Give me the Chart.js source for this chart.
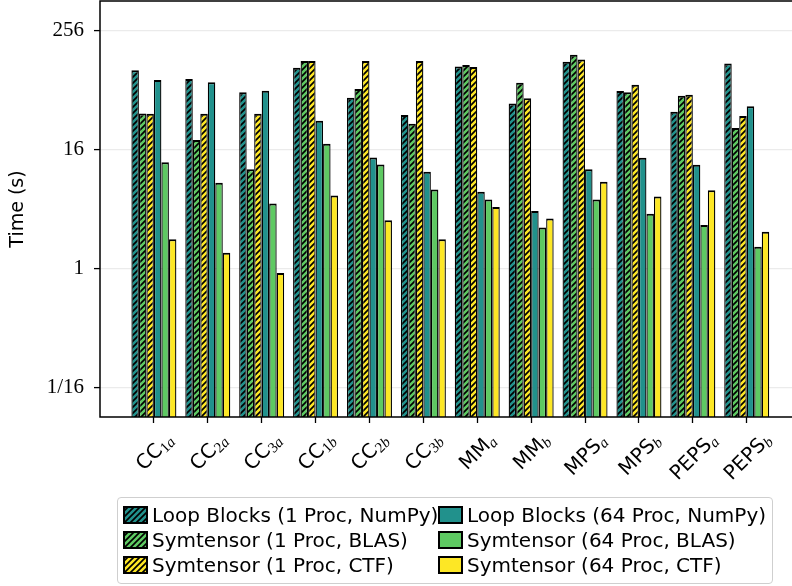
<!DOCTYPE html>
<html>
<head>
<meta charset="utf-8">
<script src="https://cdn.jsdelivr.net/npm/chart.js@4.4.1/dist/chart.umd.min.js"></script>
<style>
html,body{margin:0;padding:0;width:792px;height:586px;overflow:hidden;background:#fff;}
#wrap{position:relative;width:792px;height:586px;}
#c{position:absolute;left:0;top:0;}
.xl{position:absolute;white-space:nowrap;font-family:"DejaVu Sans",sans-serif;font-size:20px;color:#000;line-height:1;}
.xl .sub{font-family:"Liberation Serif",serif;font-size:15px;position:relative;top:3px;}
#legendBox{position:absolute;left:117px;top:497px;width:656px;height:87px;border:1.5px solid #cfcfcf;border-radius:4px;box-sizing:border-box;}
.lt{position:absolute;white-space:nowrap;font-family:"DejaVu Sans",sans-serif;font-size:20px;line-height:25px;color:#000;}
.sw{position:absolute;}
</style>
</head>
<body>
<div id="wrap">
<canvas id="c" width="792" height="586"></canvas>
<div id="legendBox"></div>
</div>
<script>
// ---------------- data ----------------
const categories = ['CC_1a','CC_2a','CC_3a','CC_1b','CC_2b','CC_3b','MM_a','MM_b','MPS_a','MPS_b','PEPS_a','PEPS_b'];
const loopBlocks1Proc  = [102, 83, 61, 108, 53.6, 35.8, 111, 47, 124, 62.6, 38.6, 119];
const symBlas1Proc     = [37.2, 20, 10.1, 126, 65.6, 29.2, 115, 76, 146, 61, 56, 26.4];
const symCtf1Proc      = [37, 37, 37, 126, 126, 126, 110, 53, 131, 72.5, 57.5, 35];
const loopBlocks64Proc = [81, 77, 63, 31.3, 13.3, 9.53, 5.98, 3.81, 10.1, 13.2, 11.2, 44];
const symBlas64Proc    = [11.9, 7.37, 4.56, 18.3, 11.3, 6.32, 5.0, 2.6, 5.0, 3.58, 2.75, 1.66];
const symCtf64Proc     = [1.97, 1.44, 0.90, 5.49, 3.07, 1.97, 4.18, 3.21, 7.55, 5.36, 6.18, 2.35];
const seriesNames = [
  'Loop Blocks (1 Proc, NumPy)',
  'Symtensor (1 Proc, BLAS)',
  'Symtensor (1 Proc, CTF)',
  'Loop Blocks (64 Proc, NumPy)',
  'Symtensor (64 Proc, BLAS)',
  'Symtensor (64 Proc, CTF)'
];
const yTickValues = [1/16, 1, 16, 256];
const yTickLabels = ['1/16', '1', '16', '256'];
const yAxisTitle = 'Time (s)';

// ---------------- styles ----------------
const TEAL = '#21918c', GREEN = '#5ec962', YELLOW = '#fde725';
function hatch(color){
  const t = document.createElement('canvas');
  t.width = 6; t.height = 6;
  const g = t.getContext('2d');
  g.fillStyle = color; g.fillRect(0,0,6,6);
  g.strokeStyle = '#000'; g.lineWidth = 1.7; g.lineCap = 'square';
  g.beginPath();
  g.moveTo(0,6); g.lineTo(6,0);
  g.moveTo(-3,3); g.lineTo(3,-3);
  g.moveTo(3,9); g.lineTo(9,3);
  g.stroke();
  return g.createPattern(t, 'repeat');
}
const seriesValues = [loopBlocks1Proc, symBlas1Proc, symCtf1Proc, loopBlocks64Proc, symBlas64Proc, symCtf64Proc];
const seriesColors = [TEAL, GREEN, YELLOW, TEAL, GREEN, YELLOW];
const seriesHatched = [true, true, true, false, false, false];
const fills = seriesColors.map((c,i)=> seriesHatched[i] ? hatch(c) : c);

const datasets = seriesValues.map((vals, k) => ({
  label: seriesNames[k],
  data: vals.map((v,i)=>({x:i, y:v})),
  backgroundColor: fills[k],
  borderColor: '#000',
  borderWidth: {top:2, left:1.3, right:1.3, bottom:0},
  borderSkipped: false,
  categoryPercentage: 0.835,
  barPercentage: 1.0
}));

const framePlugin = {
  id:'frame',
  afterDatasetsDraw(chart){
    const {ctx, chartArea:a} = chart;
    ctx.save();
    ctx.strokeStyle = '#000'; ctx.lineWidth = 1.5;
    ctx.beginPath();
    ctx.moveTo(a.right + 5, a.top); ctx.lineTo(a.left, a.top);
    ctx.lineTo(a.left, a.bottom); ctx.lineTo(a.right + 5, a.bottom);
    ctx.stroke();
    ctx.restore();
  }
};

function labelHTML(cat){
  const parts = cat.split('_');
  const sub = parts[1].split('').map(ch => /\d/.test(ch) ? ch : '<i>'+ch+'</i>').join('');
  return parts[0] + '<span class="sub">' + sub + '</span>';
}

let labelsBuilt = false;
const xLabelPlugin = {
  id:'xlabels',
  afterRender(chart){
    if (labelsBuilt) return;
    labelsBuilt = true;
    const wrap = document.getElementById('wrap');
    const xs = chart.scales.x;
    categories.forEach((cat, i) => {
      const d = document.createElement('div');
      d.className = 'xl';
      d.innerHTML = labelHTML(cat);
      d.style.left = xs.getPixelForValue(i) + 'px';
      d.style.top = '0px';
      d.style.transform = 'translate(-50%,-50%) rotate(-45deg)';
      wrap.appendChild(d);
      const r = d.getBoundingClientRect();
      d.style.top = (429 + r.height/2) + 'px';
    });
  }
};

new Chart(document.getElementById('c'), {
  type: 'bar',
  data: { datasets },
  plugins: [framePlugin, xLabelPlugin],
  options: {
    responsive: false,
    animation: false,
    layout: { padding: { top: 1, right: 0, left: 0, bottom: 0 } },
    plugins: { legend: { display: false }, tooltip: { enabled: false } },
    scales: {
      x: {
        type: 'linear',
        min: -1,
        max: 11.84,
        offset: false,
        afterBuildTicks(s){ s.ticks = categories.map((c,i)=>({value:i})); },
        afterFit(s){ s.height = 169; s.paddingLeft = 0; s.paddingRight = 0; },
        ticks: { callback: () => '', autoSkip: false, maxRotation: 0 },
        grid: { display: true, offset: false, drawOnChartArea: false, drawTicks: true, tickLength: 6, tickColor: '#000', tickWidth: 1.3 },
        border: { display: false }
      },
      y: {
        type: 'logarithmic',
        min: 1/32,
        max: 512,
        afterBuildTicks(s){ s.ticks = yTickValues.map(v=>({value:v})); },
        afterFit(s){ s.width = 100; s.paddingTop = 0; s.paddingBottom = 0; },
        ticks: {
          callback: (v) => { const i = yTickValues.findIndex(t => Math.abs(t - v) < 1e-9); return i >= 0 ? yTickLabels[i] : ''; },
          font: { family: '"Liberation Serif", serif', size: 21 },
          color: '#000',
          padding: 10,
          autoSkip: false
        },
        grid: { color: '#ebebeb', lineWidth: 1.2, tickColor: '#000', tickLength: 6, tickWidth: 1.3 },
        border: { display: false },
        title: {
          display: true,
          text: yAxisTitle,
          font: { family: '"DejaVu Sans", sans-serif', size: 19 },
          color: '#000',
          padding: { top: 7, bottom: 0 }
        }
      }
    }
  }
});

// ---------------- legend ----------------
(function(){
  const wrap = document.getElementById('wrap');
  const colX = [[123, 152], [438, 467]];
  for (let k = 0; k < seriesNames.length; k++){
    const col = k < 3 ? 0 : 1, row = k % 3;
    const sw = document.createElement('canvas');
    sw.width = 25; sw.height = 18; sw.className = 'sw';
    sw.style.left = colX[col][0] + 'px';
    sw.style.top = (505.5 + 25*row) + 'px';
    const g = sw.getContext('2d');
    g.fillStyle = seriesHatched[k] ? hatch(seriesColors[k]) : seriesColors[k];
    g.fillRect(0,0,25,18);
    g.strokeStyle = '#000'; g.lineWidth = 2;
    g.strokeRect(1,1,23,16);
    wrap.appendChild(sw);
    const t = document.createElement('div');
    t.className = 'lt';
    t.textContent = seriesNames[k];
    t.style.left = colX[col][1] + 'px';
    t.style.top = (503 + 25*row) + 'px';
    wrap.appendChild(t);
  }
})();
</script>
</body>
</html>
